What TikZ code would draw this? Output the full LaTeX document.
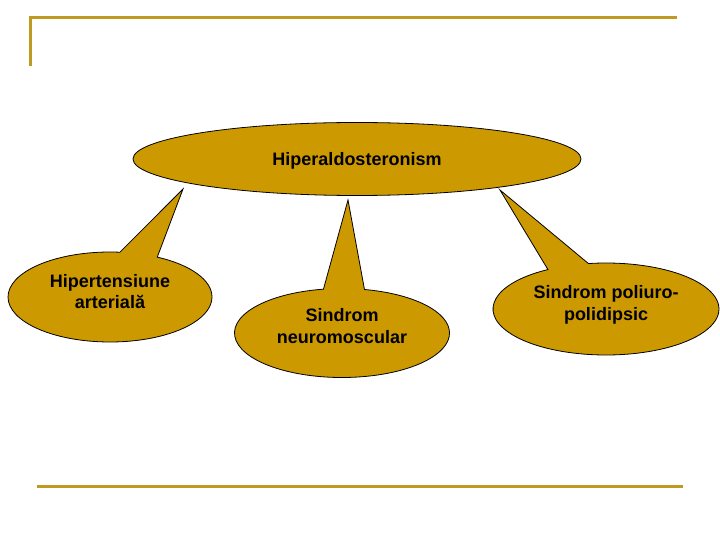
\documentclass[tikz,border=0pt]{standalone}
\usepackage{fontspec}
\setmainfont{Liberation Sans}
\usetikzlibrary{shapes.geometric,shapes.callouts}
\definecolor{gold}{RGB}{204,153,0}
\definecolor{rulegold}{RGB}{191,153,34}
\tikzset{
  mainbox/.style={ellipse,draw=black,line width=0.8pt,fill=gold,
    minimum width=448pt,minimum height=73pt,inner sep=0pt},
  callbox/.style={ellipse callout,draw=black,line width=0.8pt,fill=gold,
    callout pointer arc=22,inner sep=0pt},
  txt/.style={font=\bfseries\fontsize{18}{21.5}\selectfont,align=center},
  rulebar/.style={draw=rulegold,line width=3pt},
}

\begin{document}
\begin{tikzpicture}[x=1pt,y=-1pt]
  \useasboundingbox (0,0) rectangle (720,540);
  % frame lines
  \draw[rulebar] (30,66) -- (30,18) -- (677,18);
  \draw[rulebar] (37,486) -- (683,486);
  % main ellipse
  \node[mainbox] (hyper) at (357,159) {};
  \node[txt,yshift=-1.5pt] (hyperText) at (hyper) {Hiperaldosteronism};
  % pointer tips
  \coordinate (tipL) at (183,189);
  \coordinate (tipM) at (348,200);
  \coordinate (tipR) at (500,190);
  % callouts
  \node[callbox,minimum width=204pt,minimum height=90pt,
    callout absolute pointer={(tipL)}] (hta) at (110,297) {};
  \node[callbox,minimum width=215pt,minimum height=89pt,
    callout absolute pointer={(tipM)}] (neuro) at (342,333) {};
  \node[callbox,minimum width=226pt,minimum height=92pt,
    callout absolute pointer={(tipR)}] (poli) at (606,309) {};
  \node[txt,yshift=5.5pt] (htaText) at (hta) {Hipertensiune\\arterială};
  \node[txt,yshift=7pt] (neuroText) at (neuro) {Sindrom\\neuromoscular};
  \node[txt,yshift=4pt] (poliText) at (poli) {Sindrom poliuro-\\polidipsic};
\end{tikzpicture}
\end{document}
